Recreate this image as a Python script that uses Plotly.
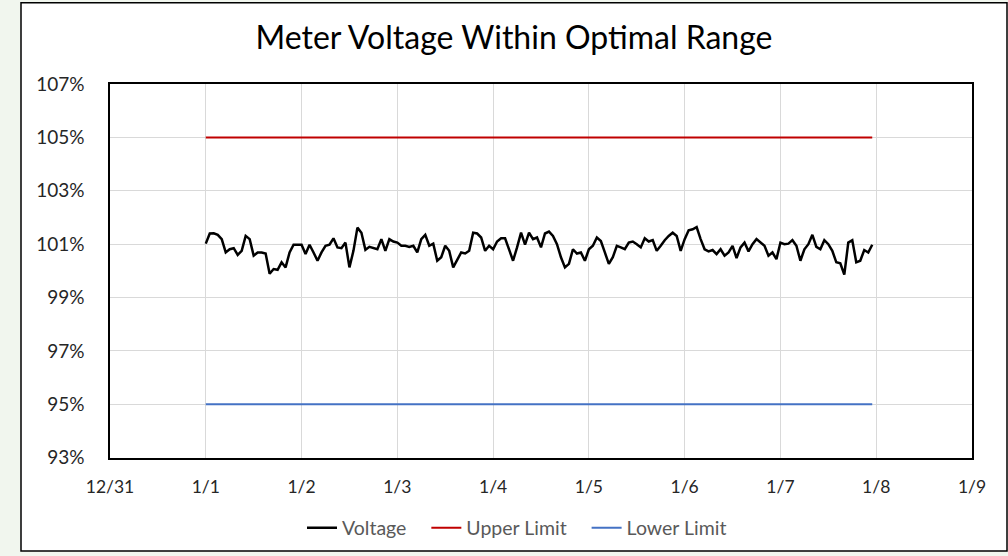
import pandas as pd
import plotly.graph_objects as go

# Hourly meter voltage readings (% of nominal), 1/1 00:00 .. 1/7 23:00
voltage = [
    101.02, 101.40, 101.41, 101.35, 101.19, 100.69, 100.81, 100.85, 100.60, 100.75,
    101.31, 101.19, 100.57, 100.69, 100.69, 100.65, 99.89, 100.07, 100.04, 100.32,
    100.13, 100.69, 100.98, 100.98, 100.98, 100.63, 100.98, 100.69, 100.38, 100.69,
    100.94, 100.98, 101.22, 100.88,
    100.85, 101.06, 100.13, 100.75, 101.62, 101.43, 100.79, 100.90, 100.85, 100.81,
    101.19, 100.75, 101.19, 101.10, 101.06, 100.94, 100.94, 100.90, 100.94, 100.69,
    101.19, 101.35, 100.94, 101.02, 100.38, 100.51, 100.94, 100.75, 100.13, 100.44,
    100.69, 100.65, 100.75, 101.43,
    101.40, 101.25, 100.75, 100.94, 100.81, 101.10, 101.22, 101.22, 100.81, 100.38,
    100.88, 101.43, 100.98, 101.43, 101.19, 101.25, 100.88, 101.40, 101.47, 101.31,
    101.00, 100.51, 100.13, 100.26, 100.81, 100.65, 100.69, 100.38, 100.81, 100.94,
    101.25, 101.12, 100.69, 100.26,
    100.51, 100.94, 100.88, 100.81, 101.06, 101.10, 101.00, 100.88, 101.22, 101.10,
    101.15, 100.75, 100.94, 101.15, 101.31, 101.43, 101.31, 100.75, 101.19, 101.52,
    101.56, 101.64, 101.19, 100.81, 100.73, 100.78, 100.63, 100.81, 100.57, 100.69,
    100.94, 100.48, 100.88, 101.06,
    100.73, 101.00, 101.19, 101.06, 100.94, 100.57, 100.69, 100.44, 101.06, 101.00,
    101.02, 101.15, 100.94, 100.38, 100.81, 101.00, 101.35, 100.90, 100.81, 101.15,
    101.00, 100.75, 100.32, 100.28, 99.86, 101.06, 101.15, 100.32, 100.38, 100.78,
    100.69, 100.98,
]
upper_limit_value = 105.0
lower_limit_value = 95.0
start_time = "2023-01-01 00:00"
x_range = ["2022-12-31", "2023-01-09"]
y_ticks = [93, 95, 97, 99, 101, 103, 105, 107]
series_names = ["Voltage", "Upper Limit", "Lower Limit"]

times = pd.date_range(start_time, periods=len(voltage), freq="h")
upper = [upper_limit_value] * len(voltage)
lower = [lower_limit_value] * len(voltage)

FONT = "Lato, 'Open Sans', sans-serif"
PAD = "\u00a0\u00a0\u00a0"

fig = go.Figure()
fig.add_trace(go.Scatter(x=times, y=voltage, mode="lines", name=series_names[0] + PAD,
                         line=dict(color="#000000", width=2.5)))
fig.add_trace(go.Scatter(x=times, y=upper, mode="lines", name=series_names[1] + PAD,
                         line=dict(color="#c00000", width=2)))
fig.add_trace(go.Scatter(x=times, y=lower, mode="lines", name=series_names[2],
                         line=dict(color="#4472c4", width=2)))

# chart box (white area with black border) over light green page
fig.add_shape(type="rect", xref="paper", yref="paper",
              x0=(21 - 110) / 862, x1=(1007 - 110) / 862,
              y0=(461 - 555) / 377, y1=(461 - 2) / 377,
              fillcolor="white", line=dict(color="black", width=1.5), layer="below")

fig.update_layout(
    width=1008, height=556,
    margin=dict(l=110, r=36, t=84, b=95),
    paper_bgcolor="#f1f6ee", plot_bgcolor="white",
    font=dict(family=FONT, color="#262626"),
    title=dict(text="Meter Voltage Within Optimal Range", x=514 / 1008, xanchor="center",
               y=1 - 38 / 556, yanchor="middle",
               font=dict(size=32, family=FONT, color="#000000")),
    showlegend=True,
    legend=dict(orientation="h", x=517 / 1008, xref="container", xanchor="center",
                y=1 - 528 / 556, yref="container", yanchor="middle",
                font=dict(size=19.5, color="#595959", family=FONT),
                bgcolor="rgba(0,0,0,0)", itemwidth=30, tracegroupgap=0),
    xaxis=dict(type="date", range=x_range, dtick=86400000, tick0="2022-12-31",
               tickformat="%-m/%-d", showgrid=True, gridcolor="#d9d9d9", gridwidth=1,
               showline=True, linecolor="black", linewidth=1.5, mirror=True,
               ticks="", ticklabelstandoff=12,
               tickfont=dict(size=17.5, color="#262626", family=FONT), zeroline=False),
    yaxis=dict(range=[93, 107], tickvals=y_ticks, ticktext=[f"{v}%" for v in y_ticks],
               showgrid=True, gridcolor="#d9d9d9", gridwidth=1,
               showline=True, linecolor="black", linewidth=1.5, mirror=True,
               ticks="", ticklabelstandoff=20,
               tickfont=dict(size=19, color="#262626", family=FONT), zeroline=False),
)

fig.write_html("out.html", config={"displayModeBar": False},
               post_script="document.body.style.margin='0';")
